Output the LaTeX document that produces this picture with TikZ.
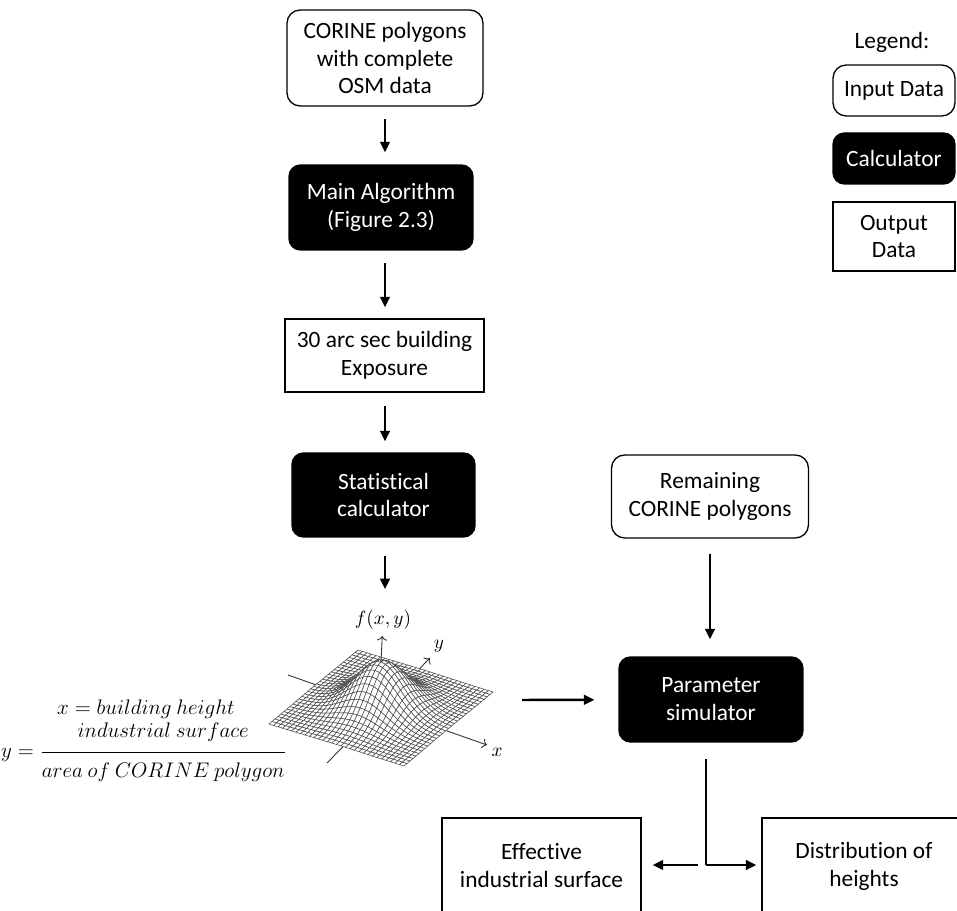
\documentclass[tikz,border=0pt]{standalone}
\usepackage{fontspec}
\setmainfont[Ligatures=NoCommon]{Carlito}
\usetikzlibrary{arrows.meta}
\tikzset{declare function={
  sx(\s,\t)=381+67.5*\s+44.5*\t;
  sy(\s,\t)=708+21*\s-37*\t-46*exp(-4.5*(\s*\s+\t*\t));}}
\begin{document}
\begin{tikzpicture}[x=0.02cm,y=-0.02cm,
  box/.style={draw,line width=0.75pt,align=center,inner sep=2pt,
    font=\fontsize{13.3}{15.9}\selectfont},
  inbox/.style={box,rounded corners=7.5pt},
  calcbox/.style={box,rounded corners=6.5pt,fill=black,text=white},
  outbox/.style={box},
  flow/.style={line width=1.4pt,-{Triangle[length=6pt,width=5.5pt]}},
  axis/.style={gray!40!black,line width=0.5pt,->},
  mesh/.style={fill=white,draw=gray!60!black,line width=0.3pt},
  formula/.style={font=\fontsize{12}{14}\selectfont}]
  \useasboundingbox (0,0) rectangle (957,911);
  \clip (0,0) rectangle (957,911);

  \node[inbox,minimum width=3.92cm,minimum height=1.92cm] (corine) at (385,58) {CORINE polygons\\with complete\\OSM data};
  \node[calcbox,minimum width=3.68cm,minimum height=1.70cm] (mainalg) at (381,207.5) {Main Algorithm\\(Figure 2.3)};
  \node[outbox,minimum width=3.98cm,minimum height=1.46cm] (expo) at (384.5,355.5) {30 arc sec building\\Exposure};
  \node[calcbox,minimum width=3.66cm,minimum height=1.68cm] (stat) at (383.5,495) {Statistical\\calculator};
  \node[inbox,minimum width=3.94cm,minimum height=1.66cm] (remain) at (710,496.5) {Remaining\\CORINE polygons};
  \node[calcbox,minimum width=3.68cm,minimum height=1.70cm] (param) at (711,699.5) {Parameter\\simulator};
  \node[outbox,minimum width=3.98cm,minimum height=1.92cm] (effect) at (541.5,866) {Effective\\industrial surface};
  \node[outbox,minimum width=4.08cm,minimum height=1.92cm] (dist) at (864,866) {Distribution of\\heights};

  \node[font=\fontsize{13.3}{15.9}\selectfont] (legend) at (892,42) {Legend:};
  \node[inbox,minimum width=2.44cm,minimum height=1.02cm] (leginput) at (894,90.5) {Input Data};
  \node[calcbox,minimum width=2.44cm,minimum height=1.02cm] (legcalc) at (894,158.5) {Calculator};
  \node[outbox,minimum width=2.44cm,minimum height=1.38cm] (legoutput) at (894,236.5) {Output\\Data};

  \node[formula] (xdef) at (146,709) {$x = building\ height$};
  \node[formula] (ydef) at (144,752) {$\displaystyle y = \frac{\rule[-7pt]{0pt}{7pt}industrial\ surface}{\rule{0pt}{13pt}area\ of\ CORINE\ polygon}$};

  \coordinate (xtail) at (288,675);
  \coordinate (xhead) at (487,745);
  \coordinate (ytail) at (327,763);
  \coordinate (yhead) at (430,658);
  \coordinate (peak) at ({sx(0,0)},{sy(0,0)});
  \node[font=\fontsize{11}{13}\selectfont] (xlbl) at (497,752) {$x$};
  \node[font=\fontsize{11}{13}\selectfont] (ylbl) at (439,646) {$y$};
  \node[font=\fontsize{11}{13}\selectfont] (fxy) at (383,620) {$f(x,y)$};
  \draw[axis] (xtail) -- (xhead);
  \draw[axis] (ytail) -- (yhead);
  \foreach \i in {0,...,29}{
    \foreach \j in {29,...,0}{
      \pgfmathsetmacro\sa{\i/15-1}
      \pgfmathsetmacro\sb{\sa+1/15}
      \pgfmathsetmacro\ta{\j/15-1}
      \pgfmathsetmacro\tb{\ta+1/15}
      \filldraw[mesh] ({sx(\sa,\ta)},{sy(\sa,\ta)}) -- ({sx(\sb,\ta)},{sy(\sb,\ta)})
        -- ({sx(\sb,\tb)},{sy(\sb,\tb)}) -- ({sx(\sa,\tb)},{sy(\sa,\tb)}) -- cycle;
    }
  }
  \draw[axis] (peak) -- (fxy);

  \coordinate (plotout) at (522,700);
  \coordinate (split) at (706,865);

  \draw[flow,shorten <=0.24cm,shorten >=0.24cm] (corine) -- (corine.south |- mainalg.north);
  \draw[flow,shorten <=0.24cm,shorten >=0.22cm] (mainalg.south -| corine) -- (corine |- expo.north);
  \draw[flow,shorten <=0.26cm,shorten >=0.22cm] (expo.south -| corine) -- (corine |- stat.north);
  \draw[flow,shorten <=0.36cm,shorten >=0.3cm] (stat.south -| corine) -- (corine |- fxy.north);
  \draw[flow,shorten <=0.3cm,shorten >=0.34cm] (remain) -- (remain.south |- param.north);
  \draw[flow,shorten >=0.48cm] (plotout) -- (param);
  \draw[line width=1.4pt,shorten <=0.32cm] (param.south -| split) -- (split);
  \draw[flow,shorten <=0.16cm,shorten >=0.22cm] (split) -- (effect.east |- split);
  \draw[flow,shorten >=0.1cm] (split) -- (dist.west |- split);
\end{tikzpicture}
\end{document}
